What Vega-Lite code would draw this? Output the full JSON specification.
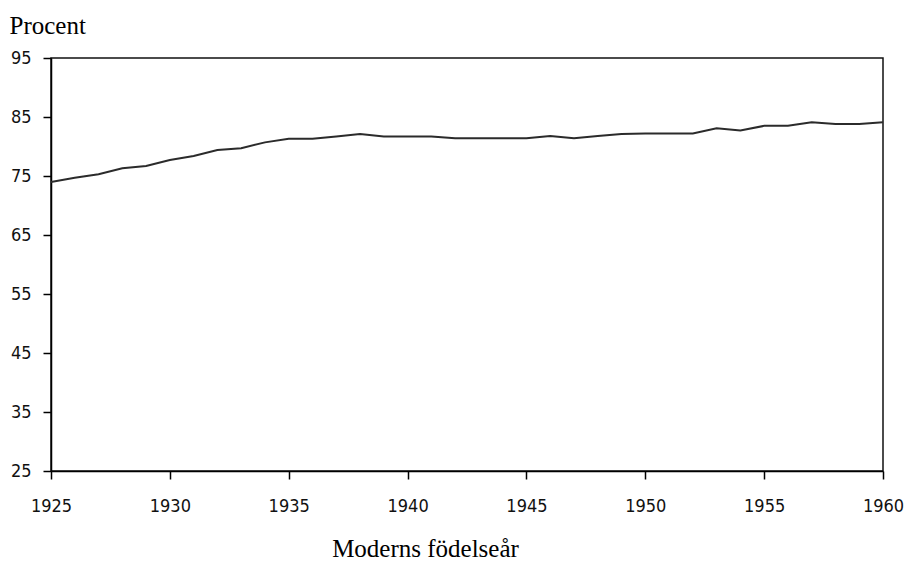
{
  "$schema": "https://vega.github.io/schema/vega-lite/v6.json",
  "width": 832,
  "height": 413,
  "autosize": {"type": "none"},
  "padding": {"left": 51, "top": 58, "right": 22, "bottom": 90},
  "background": "white",
  "config": {
    "view": {"stroke": "#111", "strokeWidth": 1.5},
    "axis": {
      "domainColor": "#000",
      "domainWidth": 1.5,
      "tickColor": "#000",
      "tickWidth": 1.5,
      "tickSize": 8,
      "grid": false,
      "labelFont": "DejaVu Sans Condensed, sans-serif",
      "labelFontSize": 18,
      "labelColor": "#111",
      "titleFont": "Liberation Serif, serif",
      "titleFontSize": 25,
      "titleFontWeight": "normal",
      "titleColor": "#000"
    }
  },
  "data": {
    "values": [
      {"year": 1925, "pct": 74.0},
      {"year": 1926, "pct": 74.7},
      {"year": 1927, "pct": 75.3},
      {"year": 1928, "pct": 76.3},
      {"year": 1929, "pct": 76.7},
      {"year": 1930, "pct": 77.7},
      {"year": 1931, "pct": 78.4},
      {"year": 1932, "pct": 79.4},
      {"year": 1933, "pct": 79.7},
      {"year": 1934, "pct": 80.7},
      {"year": 1935, "pct": 81.3},
      {"year": 1936, "pct": 81.3},
      {"year": 1937, "pct": 81.7},
      {"year": 1938, "pct": 82.1},
      {"year": 1939, "pct": 81.7},
      {"year": 1940, "pct": 81.7},
      {"year": 1941, "pct": 81.7},
      {"year": 1942, "pct": 81.4},
      {"year": 1943, "pct": 81.4},
      {"year": 1944, "pct": 81.4},
      {"year": 1945, "pct": 81.4},
      {"year": 1946, "pct": 81.8},
      {"year": 1947, "pct": 81.4},
      {"year": 1948, "pct": 81.8},
      {"year": 1949, "pct": 82.1},
      {"year": 1950, "pct": 82.2},
      {"year": 1951, "pct": 82.2},
      {"year": 1952, "pct": 82.2},
      {"year": 1953, "pct": 83.1},
      {"year": 1954, "pct": 82.7},
      {"year": 1955, "pct": 83.5},
      {"year": 1956, "pct": 83.5},
      {"year": 1957, "pct": 84.1},
      {"year": 1958, "pct": 83.8},
      {"year": 1959, "pct": 83.8},
      {"year": 1960, "pct": 84.1}
    ]
  },
  "mark": {"type": "line", "color": "#2b2b2b", "strokeWidth": 2},
  "encoding": {
    "x": {
      "field": "year",
      "type": "quantitative",
      "scale": {"domain": [1925, 1960], "nice": false, "zero": false},
      "axis": {
        "values": [1925, 1930, 1935, 1940, 1945, 1950, 1955, 1960],
        "format": "d",
        "labelPadding": 18,
        "labelFlush": false,
        "title": "Moderns födelseår",
        "titleX": 374,
        "titleY": 85,
        "titleAnchor": null,
        "titleAlign": "center",
        "titleBaseline": "alphabetic"
      }
    },
    "y": {
      "field": "pct",
      "type": "quantitative",
      "scale": {"domain": [25, 95], "nice": false, "zero": false},
      "axis": {
        "values": [25, 35, 45, 55, 65, 75, 85, 95],
        "labelPadding": 12,
        "labelFlush": false,
        "title": "Procent",
        "titleAngle": 0,
        "titleX": -42,
        "titleY": -25,
        "titleAlign": "left",
        "titleBaseline": "alphabetic"
      }
    }
  }
}
